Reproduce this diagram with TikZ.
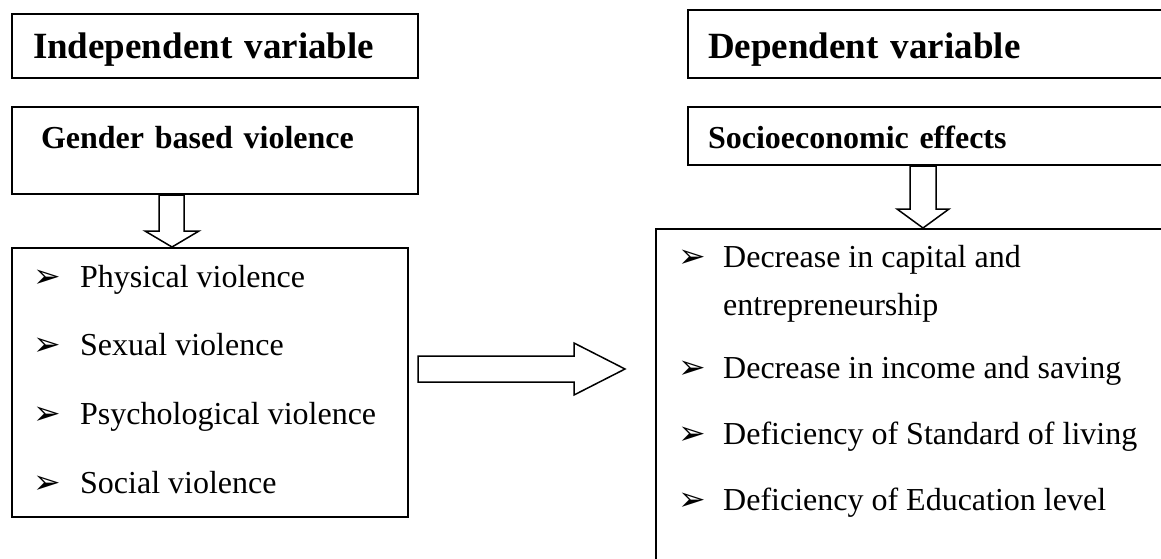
\documentclass[tikz,border=0pt]{standalone}
\usepackage{fontspec}
\setmainfont{Liberation Serif}
\newfontfamily\dingfont{DejaVu Sans}
\usetikzlibrary{calc,positioning}
\newcommand{\bul}{{\dingfont\fontsize{33}{33}\selectfont ➢}}
\tikzset{
  frame/.style={draw=black, line width=2pt},
  headbox/.style={frame, anchor=north west, inner ysep=0pt, align=left, font=\bfseries\fontsize{37}{44}\selectfont},
  subbox/.style={frame, anchor=north west, inner ysep=0pt, align=left, font=\bfseries\fontsize{32}{38}\selectfont},
  listbox/.style={frame, anchor=north west, inner sep=0pt},
  item/.style={anchor=base west, inner sep=0pt, font=\fontsize{32}{38}\selectfont},
  blockarrow/.style={draw=black, line width=1.5pt, fill=white, line join=miter}
}

\begin{document}
\begin{tikzpicture}[x=1pt,y=-1pt]
  \useasboundingbox (0,0) rectangle (1161,558);
  \clip (0,0) rectangle (1161,558);
  \node[headbox, inner xsep=21pt, text width=364pt, text height=44pt, text depth=20pt] (indep) at (11,13) {Independent variable};
  \node[subbox, inner xsep=29pt, text width=348pt, text height=41pt, text depth=46pt] (gbv) at (11,106) {Gender based violence};
  \node[listbox, minimum width=396pt, minimum height=269pt] (gbvlist) at (11,247) {};
  \node[item] (physical) at (33,287) {\makebox[47pt][l]{\bul}Physical violence};
  \node[item] (sexual) at (33,355) {\makebox[47pt][l]{\bul}Sexual violence};
  \node[item] (psycho) at (33,424) {\makebox[47pt][l]{\bul}Psychological violence};
  \node[item] (social) at (33,493) {\makebox[47pt][l]{\bul}Social violence};

  \node[headbox, inner xsep=20pt, text width=453pt, text height=48pt, text depth=20pt] (dep) at (687,9) {Dependent variable};
  \node[subbox, inner xsep=20pt, text width=453pt, text height=41pt, text depth=17pt] (socio) at (687,106) {Socioeconomic effects};
  \node[listbox, minimum width=530pt, minimum height=340pt] (effectlist) at (655,228) {};
  \node[item] (capital) at (678,267) {\makebox[45pt][l]{\bul}Decrease in capital and};
  \node[item] (entre) at (723,315) {entrepreneurship};
  \node[item] (income) at (678,378) {\makebox[45pt][l]{\bul}Decrease in income and saving};
  \node[item] (living) at (678,444) {\makebox[45pt][l]{\bul}Deficiency of Standard of living};
  \node[item] (education) at (678,510) {\makebox[45pt][l]{\bul}Deficiency of Education level};

  \draw[blockarrow] ($(gbv.south west)+(148,0)$) -- ++(0,36) -- ++(-14,0) -- ($(gbvlist.north west)+(161,0)$) -- ($(gbv.south west)+(188,36)$) -- ++(-15,0) -- ($(gbv.south west)+(173,0)$) -- cycle;
  \draw[blockarrow] ($(socio.south west)+(223,0)$) -- ++(0,43) -- ++(-13,0) -- ($(effectlist.north west)+(268,0)$) -- ($(socio.south west)+(262,43)$) -- ++(-13,0) -- ($(socio.south west)+(249,0)$) -- cycle;
  \draw[blockarrow] ($(gbvlist.north east)+(9,109)$) -- ++(156,0) -- ++(0,-13) -- ($(gbvlist.north east)+(216,122)$) -- ++(-51,26) -- ++(0,-13) -- ++(-156,0) -- cycle;
\end{tikzpicture}
\end{document}
